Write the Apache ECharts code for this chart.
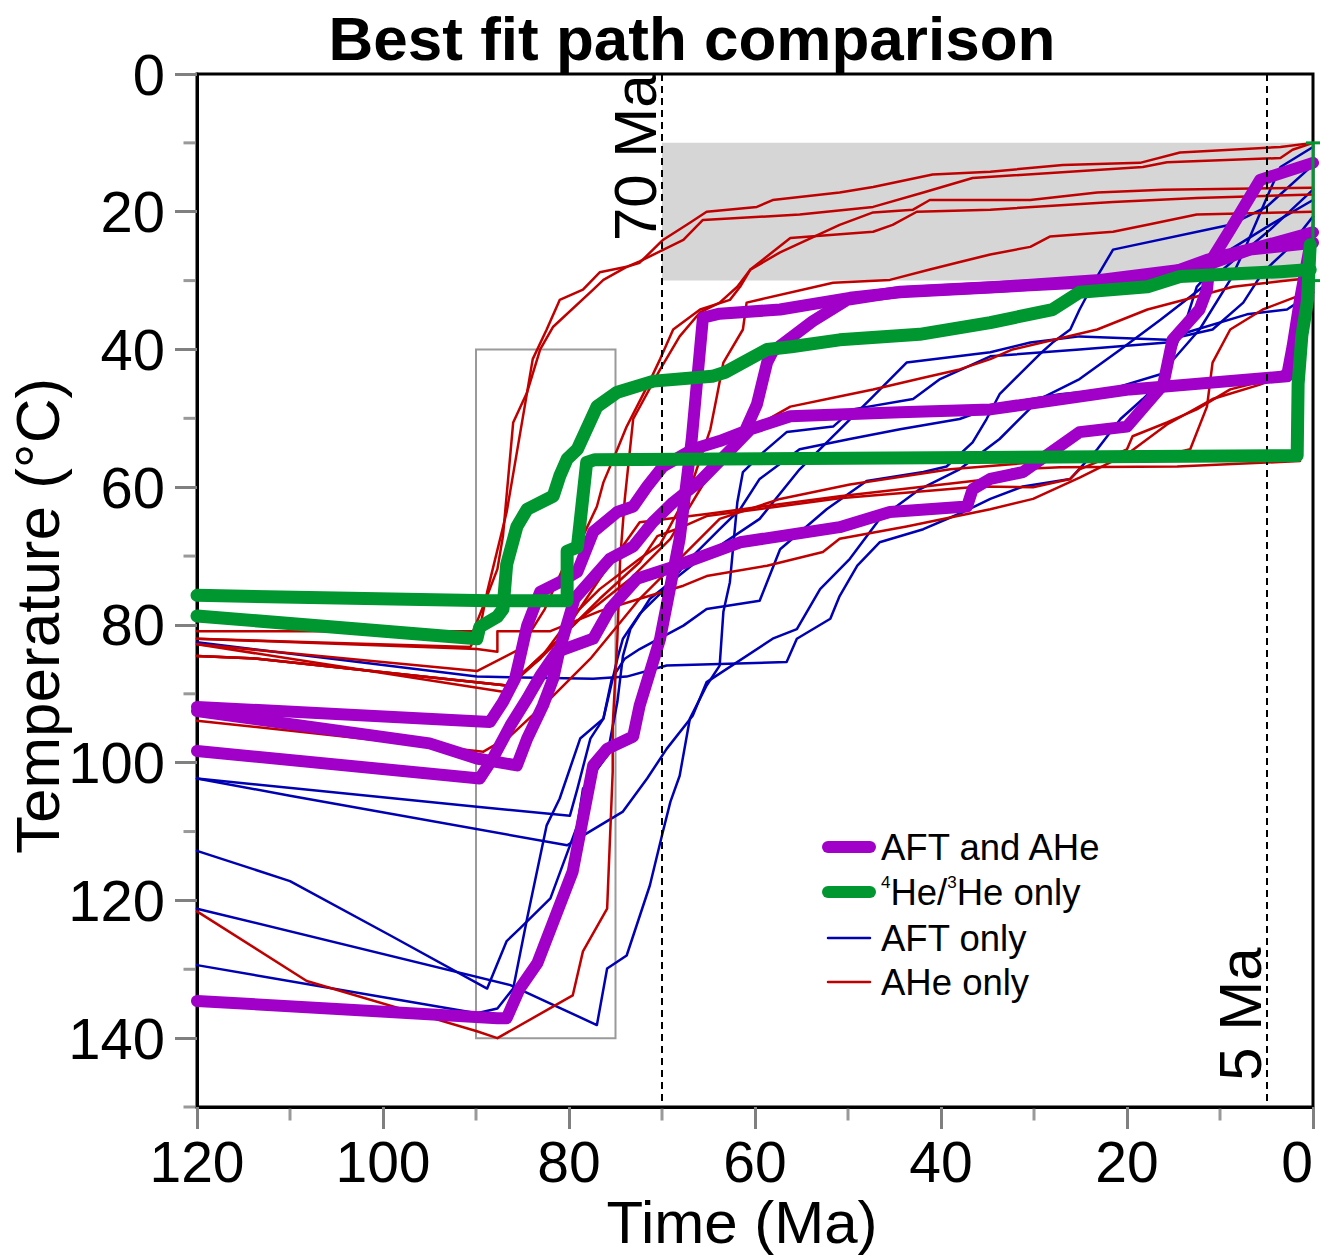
<!DOCTYPE html>
<html>
<head>
<meta charset="utf-8">
<title>Best fit path comparison</title>
<script src="https://cdn.jsdelivr.net/npm/echarts@6.0.0/dist/echarts.min.js"></script>
<style>
html,body{margin:0;padding:0;background:#fff;}
#chart{width:1329px;height:1255px;}
</style>
</head>
<body>
<div id="chart"></div>
<script>
// ---------------- text ----------------
const titleText = 'Best fit path comparison';
const xAxisTitle = 'Time (Ma)';
const yAxisTitle = 'Temperature (°C)';
const legendLabels = ['AFT and AHe', '{s|4}He/{s|3}He only', 'AFT only', 'AHe only'];
const markerTimes = [70, 5];
const markerLabels = ['70 Ma', '5 Ma'];

// ---------------- axes ----------------
const xMajorTicks = [0, 20, 40, 60, 80, 100, 120];
const xMinorTicks = [10, 30, 50, 70, 90, 110];
const yMajorTicks = [0, 20, 40, 60, 80, 100, 120, 140];
const yMinorTicks = [10, 30, 50, 70, 90, 110, 130, 150];

// ---------------- boxes ----------------
const surfaceWindow = [70, 0, 10, 30];     // t from, t to, T from, T to
const constraintBox = [90, 75, 40, 140];
const presentTemp = [[0, 10], [0, 30]];

// ---------------- AFT and AHe (purple) ----------------
const aftAhe1 = [[120,134.6],[87.7,137.1],[86.7,137.1],[85.3,132.8],[83.4,129.1],[79.6,115.8],[77.4,100.4],[75.9,98.0],[73.1,96.2],[72.4,91.7],[70.2,82.0],[68.1,67.5],[66.8,53.0],[65.6,35.4],[63.8,34.8],[57.3,34.2],[49.8,32.5],[44.4,31.7],[34.7,31.0],[25.1,30.3],[18.6,29.9],[15.1,28.8],[11.4,27.0],[5.7,25.1],[0,23.0]];
const aftAhe2 = [[120,91.9],[88.5,94.1],[87.1,91.2],[85.8,87.8],[85.3,84.9],[84.5,80.1],[83.1,75.2],[81.0,73.8],[79.1,72.3],[77.4,66.5],[74.8,63.6],[73.1,62.8],[71.6,59.9],[69.9,57.0],[66.7,54.5],[63.8,53.3],[61.1,51.9],[59.8,48.0],[58.7,41.9],[58.1,40.3],[53.8,35.9],[50.1,32.8],[44.4,31.6],[33.7,30.9],[22.9,29.9],[12.2,28.1],[6.8,25.5],[0,24.5]];
const aftAhe3 = [[120,92.5],[95.0,97.2],[89.9,99.4],[85.6,100.4],[84.5,96.5],[82.8,91.7],[81.7,87.8],[81.0,83.5],[79.4,76.2],[75.6,70.4],[73.1,68.6],[71.0,65.1],[68.8,62.2],[65.9,59.1],[63.8,56.2],[60.5,51.6],[56.2,49.7],[44.4,49.1],[34.7,48.7],[19.7,45.8],[2.8,43.9],[2.2,39.6],[1.4,32.8],[0.3,24.8]];
const aftAhe4 = [[120,98.3],[89.6,102.3],[88.2,99.4],[86.3,94.6],[84.5,90.7],[83.1,87.4],[81.3,83.9],[77.4,82.0],[75.6,77.7],[72.7,73.3],[68.4,71.4],[61.6,68.0],[50.9,65.8],[45.5,63.6],[37.2,62.8],[36.6,60.3],[34.7,58.8],[31.2,57.8],[25.1,52.0],[20.0,51.2],[16.1,45.1],[15.1,38.6],[12.2,34.2],[11.4,31.3],[11.1,27.4],[8.9,22.6],[5.7,15.4],[0,12.9]];

// ---------------- 4He/3He only (green) ----------------
const heOnly1 = [[120,75.7],[88.5,76.5],[80.2,76.5],[80.2,69.3],[79.1,68.7],[78.1,56.4],[77.2,56.0],[1.7,55.4],[1.6,45.0],[1.2,38.0],[0.6,33.0],[0.3,24.8]];
const heOnly2 = [[120,78.7],[89.9,82.0],[89.6,80.3],[87.7,78.8],[87.1,77.7],[86.7,71.2],[85.6,65.7],[84.5,63.2],[81.7,61.3],[81.0,58.4],[80.2,55.9],[79.1,54.5],[77.0,48.3],[74.8,46.2],[70.9,44.6],[64.6,43.9],[63.2,43.3],[58.7,40.0],[56.1,39.6],[50.9,38.6],[42.3,37.8],[34.7,36.1],[28.0,34.2],[25.1,31.7],[17.8,30.9],[14.3,29.4],[3.5,28.7],[0.3,28.4]];

// ---------------- AFT only (blue) ----------------
const aftOnly1 = [[120,82.5],[89.9,87.5],[77.4,87.8],[73.8,87.5],[69.5,85.9],[56.6,85.4],[55.5,82.0],[51.9,79.1],[50.9,75.8],[49.0,71.4],[46.6,68.0],[41.9,66.1],[37.6,63.6],[34.7,61.7],[31.2,59.9],[26.1,58.8],[23.2,54.5],[20.7,50.1],[18.3,47.2],[16.1,44.3],[13.5,35.2],[12.5,30.9],[8.9,25.5],[4.6,21.9],[0,18.3]];
const aftOnly2 = [[120,102.3],[89.9,106.4],[79.9,107.7],[79.1,103.8],[77.7,96.5],[76.3,93.6],[75.4,87.8],[74.0,84.9],[72.4,83.5],[67.7,80.1],[65.2,77.7],[59.5,76.5],[57.3,69.0],[52.3,63.2],[48.0,59.1],[41.9,57.8],[39.4,57.0],[36.6,53.5],[35.1,50.1],[33.7,46.5],[29.4,40.7],[28.0,39.0],[26.1,37.1],[25.1,34.2],[23.2,29.4],[21.5,25.5],[8.9,21.9],[5.0,19.3],[0,13.2]];
const aftOnly3 = [[120,102.3],[110.0,104.8],[80.2,112.0],[78.5,110.6],[74.2,107.1],[71.6,102.3],[69.5,98.0],[66.7,93.2],[65.2,88.3],[58.1,82.0],[55.5,80.6],[53.0,74.8],[49.8,70.4],[46.6,64.6],[42.3,60.3],[38.0,57.4],[33.7,53.0],[29.4,47.2],[25.1,44.3],[20.7,40.0],[16.4,35.7],[12.2,31.3],[7.8,26.2],[4.6,22.6],[0,16.8]];
const aftOnly4 = [[120,121.2],[86.3,132.3],[77.0,138.1],[75.9,129.9],[73.8,128.0],[71.3,117.8],[69.9,110.0],[69.1,105.7],[68.1,101.9],[67.0,93.6],[65.2,88.8],[63.8,85.9],[63.4,78.1],[62.7,73.8],[61.9,62.2],[61.3,57.8],[59.1,54.9],[56.6,52.0],[51.6,51.2],[49.5,48.7],[43.0,47.2],[40.1,44.3],[34.7,41.0],[25.1,40.0],[15.7,39.0],[13.5,37.5],[7.1,34.9],[2.8,34.2],[0,31.7]];
const aftOnly5 = [[120,112.8],[110.0,117.2],[99.2,125.1],[88.8,132.8],[86.7,125.9],[85.3,124.1],[82.0,119.7],[79.1,109.1],[78.5,103.8],[75.9,99.0],[74.8,91.2],[74.2,84.5],[73.4,80.6],[71.3,76.2],[65.9,70.4],[59.5,64.6],[55.2,57.4],[47.3,46.8],[43.7,41.9],[34.7,40.4],[30.4,39.0],[25.1,38.1],[15.7,38.6],[10.8,37.1],[7.5,33.2],[5.4,28.8],[2.8,25.5],[0,20.7]];
const aftOnly6 = [[120,129.4],[89.9,136.4],[87.7,135.7],[86.0,132.8],[84.5,122.6],[82.4,109.1],[81.0,105.2],[78.8,96.5],[76.3,93.6],[74.8,84.9],[74.2,82.0],[72.4,78.4],[69.7,74.8],[67.0,70.4],[63.8,66.1],[61.6,63.2],[59.5,58.8],[55.2,54.5],[49.8,53.0],[44.4,51.6],[38.0,50.1],[33.7,48.0],[27.2,46.5],[21.8,45.8],[16.4,43.6],[12.2,37.1],[8.9,29.9],[7.5,25.9],[6.0,21.2],[4.6,16.8],[3.5,13.5],[0,10.6]];

// ---------------- AHe only (red) ----------------
const aheOnly1 = [[120,80.9],[90.3,80.9],[89.2,77.2],[87.7,71.9],[87.1,67.1],[86.0,50.6],[84.5,46.2],[83.9,41.4],[82.4,37.1],[81.0,32.8],[78.5,31.3],[76.7,28.8],[73.8,28.0],[72.4,27.4],[69.9,24.1],[67.0,21.6],[65.2,20.0],[59.8,19.3],[58.1,18.3],[50.9,17.2],[47.3,16.4],[40.9,14.6],[34.7,14.2],[26.9,13.2],[18.6,12.9],[14.3,11.4],[3.5,10.6],[0,10.0]];
const aheOnly2 = [[120,82.0],[90.6,83.2],[89.6,80.6],[88.8,75.2],[86.7,63.6],[84.5,46.2],[83.1,40.0],[81.7,36.7],[77.4,31.3],[76.3,29.9],[73.8,28.0],[72.4,27.2],[67.7,24.1],[65.6,21.2],[55.2,20.4],[47.3,19.3],[41.9,17.2],[36.6,15.1],[18.3,13.5],[15.7,12.8],[3.5,12.2],[2.2,11.0],[0,10.0]];
const aheOnly3 = [[120,82.8],[89.9,86.7],[85.3,83.5],[82.6,77.7],[79.6,68.6],[78.5,67.1],[77.0,62.8],[76.3,59.3],[74.8,54.5],[73.8,51.2],[72.7,48.3],[71.6,45.4],[70.2,41.4],[68.8,37.1],[65.9,34.2],[62.7,32.8],[61.6,30.9],[60.5,28.4],[57.3,25.9],[50.9,21.9],[47.3,20.1],[43.0,19.7],[41.2,18.3],[34.7,18.3],[30.4,18.3],[23.2,17.2],[16.1,16.8],[0,16.5]];
const aheOnly4 = [[120,82.8],[87.1,89.7],[83.1,84.9],[79.9,79.1],[76.7,74.8],[72.4,70.4],[70.2,68.3],[67.0,60.3],[64.8,51.6],[64.1,46.8],[63.4,41.9],[61.3,37.1],[60.9,33.2],[51.6,30.3],[45.5,29.9],[41.2,28.4],[38.3,27.4],[34.7,26.2],[30.4,25.1],[28.3,23.6],[21.5,22.9],[17.8,21.9],[12.5,20.4],[3.5,20.1],[0,20.0]];
const aheOnly5 = [[120,93.9],[89.2,98.4],[86.3,96.1],[82.0,90.7],[77.7,84.9],[72.4,76.2],[67.7,74.3],[65.2,72.9],[58.7,71.4],[52.7,69.4],[50.9,67.5],[43.7,65.7],[34.7,63.2],[30.1,61.7],[25.1,58.6],[20.0,55.2],[15.7,50.9],[10.8,47.2],[5.7,45.1],[2.8,43.6],[1.7,37.1],[0,29.9]];
const aheOnly6 = [[120,84.5],[113.5,84.9],[86.7,88.8],[85.3,87.4],[81.0,82.0],[76.7,73.3],[72.4,65.1],[65.2,63.9],[50.9,61.3],[34.7,58.8],[32.3,57.4],[27.2,57.1],[14.6,57.0],[1.4,56.2]];
const aheOnly7 = [[120,121.6],[108.2,131.7],[89.9,139.0],[87.7,140.0],[79.6,133.8],[78.5,127.4],[75.9,121.2],[75.3,101.3],[75.3,94.6],[74.8,82.0],[74.5,70.4],[74.0,61.7],[73.1,50.1],[70.2,42.9],[68.1,38.1],[65.9,34.6],[63.8,33.2],[61.9,30.9],[60.5,28.4],[56.2,23.8],[47.3,22.9],[45.2,21.9],[42.6,20.0],[34.7,19.7],[21.5,18.6],[12.5,18.0],[0,17.5]];
const aheOnly8 = [[120,84.5],[113.5,84.9],[86.7,88.8],[83.1,84.9],[78.8,79.1],[73.4,73.3],[69.1,67.5],[65.9,60.3],[63.2,54.5],[60.5,51.6],[56.2,48.3],[51.6,47.0],[47.3,45.8],[41.9,44.1],[38.0,42.9],[34.7,41.4],[32.3,40.0],[23.2,37.1],[17.8,34.2],[12.5,32.3],[8.6,30.9],[3.5,30.1],[0,29.6]];
const aheOnly9 = [[120,82.0],[89.9,83.5],[87.7,83.9],[87.7,80.9],[82.0,80.9],[76.7,78.0],[72.4,76.2],[68.1,70.4],[63.8,64.6],[57.3,61.7],[49.8,59.6],[39.0,57.4],[28.3,56.2],[17.5,55.9],[13.2,54.5],[11.4,48.3],[10.8,41.9],[8.9,37.1],[5.4,34.2],[1.7,32.3],[0,31.3]];
const aheOnly10 = [[120,84.5],[113.5,84.9],[86.7,88.8],[85.3,87.4],[81.0,82.0],[76.7,76.2],[72.4,70.9],[70.5,67.1],[67.7,65.7],[65.2,64.2],[50.9,61.6],[35.8,59.9],[30.1,60.0],[26.1,58.8],[25.1,57.4],[20.0,54.5],[19.4,52.6],[15.7,50.6],[12.5,48.7],[8.9,45.8],[6.0,44.8],[2.8,42.9],[1.7,39.6],[0.3,28.4],[0,21.2]];

const aftAheSeries = [aftAhe1, aftAhe2, aftAhe3, aftAhe4];
const heOnlySeries = [heOnly1, heOnly2];
const aftOnlySeries = [aftOnly1, aftOnly2, aftOnly3, aftOnly4, aftOnly5, aftOnly6];
const aheOnlySeries = [aheOnly1, aheOnly2, aheOnly3, aheOnly4, aheOnly5, aheOnly6, aheOnly7, aheOnly8, aheOnly9, aheOnly10];

// ---------------- style ----------------
const FONT = "'Liberation Sans', Arial, Helvetica, sans-serif";
const C_PURPLE = '#a000c8';
const C_GREEN = '#009630';
const C_BLUE = '#0000b4';
const C_RED = '#c00000';
const C_TICK = '#808080';
const X_MAX = 120, Y_MAX = 150;

function pathSeries(name, data, color, width, z) {
  return {
    type: 'line', name: name, data: data, z: z,
    symbol: 'none', showSymbol: false, silent: true, clip: true,
    lineStyle: { color: color, width: width, join: 'round', cap: 'round' },
    emphasis: { disabled: true }
  };
}

const series = [];
// background: surface window (grey) and constraint box outline
series.push({
  type: 'line', name: 'bg', data: [], z: 1, silent: true,
  markArea: {
    silent: true,
    data: [
      [{ xAxis: surfaceWindow[0], yAxis: surfaceWindow[2], itemStyle: { color: '#d6d6d6', borderWidth: 0 } },
       { xAxis: surfaceWindow[1], yAxis: surfaceWindow[3] }],
      [{ xAxis: constraintBox[0], yAxis: constraintBox[2], itemStyle: { color: 'rgba(0,0,0,0)', borderColor: '#9a9a9a', borderWidth: 2 } },
       { xAxis: constraintBox[1], yAxis: constraintBox[3] }]
    ]
  }
});
aftOnlySeries.forEach((d) => series.push(pathSeries('AFT only', d, C_BLUE, 2.5, 2)));
aheOnlySeries.forEach((d) => series.push(pathSeries('AHe only', d, C_RED, 2.5, 3)));
aftAheSeries.forEach((d) => series.push(pathSeries('AFT and AHe', d, C_PURPLE, 12, 4)));
heOnlySeries.forEach((d) => series.push(pathSeries('He only', d, C_GREEN, 13, 5)));
// present-day temperature constraint at the right edge
series.push({
  type: 'line', name: 'present', data: presentTemp, z: 6, silent: true, clip: false,
  symbol: 'rect', symbolSize: [14, 3], showSymbol: true,
  itemStyle: { color: C_GREEN },
  lineStyle: { color: C_GREEN, width: 3 }
});
// dashed time markers on top
series.push({
  type: 'line', name: 'markers', data: [], z: 7, silent: true,
  markLine: {
    silent: true, symbol: 'none', label: { show: false },
    lineStyle: { color: '#000', width: 2, type: [7, 5] },
    data: markerTimes.map(t => ({ xAxis: t }))
  }
});
// minor ticks (short, outside the frame)
series.push({
  type: 'scatter', name: 'xMinor', silent: true, clip: false, z: 8,
  data: xMinorTicks.map(t => [t, Y_MAX]),
  symbol: 'rect', symbolSize: [3, 12], symbolOffset: [0, 7.5],
  itemStyle: { color: C_TICK }
});
series.push({
  type: 'scatter', name: 'yMinor', silent: true, clip: false, z: 8,
  data: yMinorTicks.map(T => [X_MAX, T]),
  symbol: 'rect', symbolSize: [12, 3], symbolOffset: [-7.5, 0],
  itemStyle: { color: C_TICK }
});

const option = {
  animation: false,
  backgroundColor: '#fff',
  textStyle: { fontFamily: FONT },
  grid: { left: 197, right: 16, top: 74, bottom: 148, show: true, borderColor: '#000', borderWidth: 3, backgroundColor: 'rgba(0,0,0,0)' },
  xAxis: {
    type: 'value', inverse: true, min: 0, max: X_MAX, interval: 20, position: 'bottom',
    axisLine: { show: true, onZero: false, lineStyle: { color: '#000', width: 3 } },
    axisTick: { show: true, length: 22, lineStyle: { color: C_TICK, width: 3 } },
    axisLabel: { show: true, fontSize: 57, lineHeight: 46, color: '#000', margin: 32, fontFamily: FONT, alignMinLabel: 'right' },
    splitLine: { show: false }
  },
  yAxis: {
    type: 'value', inverse: true, min: 0, max: Y_MAX, interval: 10, position: 'left',
    axisLine: { show: true, onZero: false, lineStyle: { color: '#000', width: 3 } },
    axisTick: { show: true, length: 22, customValues: yMajorTicks, lineStyle: { color: C_TICK, width: 3 } },
    axisLabel: { show: true, customValues: yMajorTicks, fontSize: 58, color: '#000', margin: 32, fontFamily: FONT },
    splitLine: { show: false }
  },
  series: series
};

const chart = echarts.init(document.getElementById('chart'), null, { renderer: 'svg', width: 1329, height: 1255 });
chart.setOption(option);

// text overlays positioned through the chart's own scales
const p70 = chart.convertToPixel({ gridIndex: 0 }, [markerTimes[0], 12.3]);
const p5 = chart.convertToPixel({ gridIndex: 0 }, [markerTimes[1], 136.5]);
const legendRows = [847, 892, 938, 982];
const legendStyles = [
  { color: C_PURPLE, width: 12 },
  { color: C_GREEN, width: 12 },
  { color: C_BLUE, width: 2.5 },
  { color: C_RED, width: 2.5 }
];
const graphics = [
  { type: 'text', x: 692, y: 38, style: { text: titleText, font: 'bold 62px ' + FONT, fill: '#000', textAlign: 'center', textVerticalAlign: 'middle' } },
  { type: 'text', x: 742, y: 1222, style: { text: xAxisTitle, font: '60px ' + FONT, fill: '#000', textAlign: 'center', textVerticalAlign: 'middle' } },
  { type: 'text', x: 37, y: 616, rotation: Math.PI / 2, style: { text: yAxisTitle, font: '62px ' + FONT, fill: '#000', textAlign: 'center', textVerticalAlign: 'middle' } },
  { type: 'text', x: p70[0] + 3, y: p70[1] - 1, rotation: Math.PI / 2, z: 20, style: { text: markerLabels[0], font: '60px ' + FONT, fill: '#000', textAlign: 'center', textVerticalAlign: 'bottom' } },
  { type: 'text', x: p5[0] + 4, y: p5[1], rotation: Math.PI / 2, z: 20, style: { text: markerLabels[1], font: '60px ' + FONT, fill: '#000', textAlign: 'center', textVerticalAlign: 'bottom' } }
];
legendRows.forEach((y, i) => {
  graphics.push({ type: 'line', z: 20, shape: { x1: 828, y1: y, x2: 870, y2: y }, style: { stroke: legendStyles[i].color, lineWidth: legendStyles[i].width, lineCap: 'round' } });
  graphics.push({ type: 'text', z: 20, x: 881, y: y, style: {
    text: legendLabels[i], font: '36.5px ' + FONT, fill: '#000', textAlign: 'left', textVerticalAlign: 'middle',
    rich: { s: { fontSize: 17, fontFamily: FONT, verticalAlign: 'top', padding: [0, 0, 15, 0] } }
  } });
});
chart.setOption({ graphic: graphics });
</script>
</body>
</html>
